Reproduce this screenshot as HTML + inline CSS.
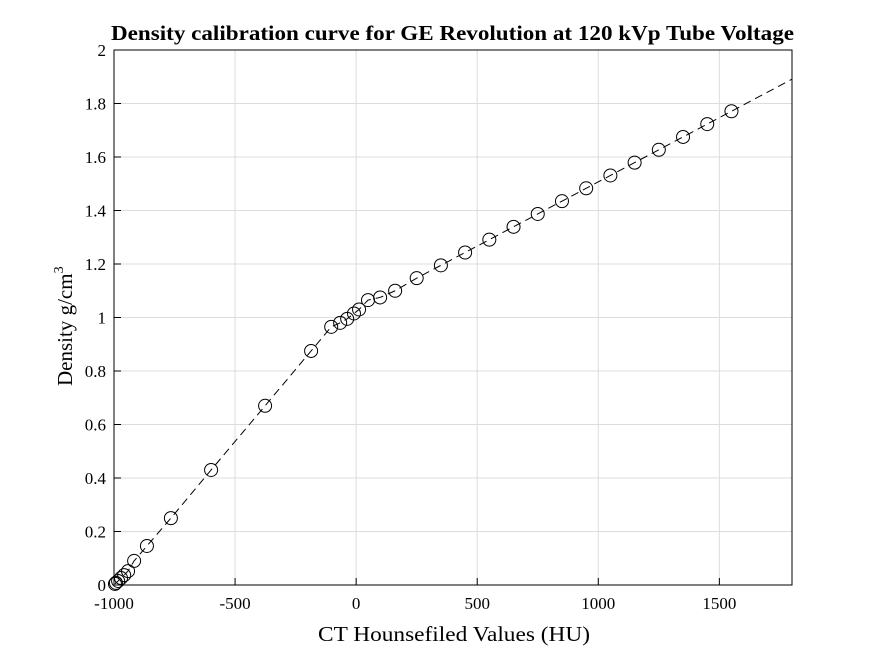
<!DOCTYPE html>
<html><head><meta charset="utf-8"><style>
html,body{margin:0;padding:0;background:#fff;width:875px;height:656px;overflow:hidden}
svg text{font-family:"Liberation Serif",serif;fill:#000}
</style></head><body>
<svg id="chart" width="875" height="656">
<rect width="875" height="656" fill="#fff"/>
<g id="grid"></g>
<g id="series"></g>
<rect x="114" y="50" width="678" height="535" fill="none" stroke="#000" stroke-width="1"/>
<g id="ticks"></g>
<text x="111" y="40" font-size="21" font-weight="bold" textLength="683" lengthAdjust="spacingAndGlyphs">Density calibration curve for GE Revolution at 120 kVp Tube Voltage</text>
<text x="318" y="641" font-size="21" textLength="272" lengthAdjust="spacingAndGlyphs">CT Hounsefiled Values (HU)</text>
<text transform="translate(72,386) rotate(-90)" font-size="21">Density g/cm<tspan dy="-9" font-size="14">3</tspan></text>
</svg>
<script>
const hu = [-996,-992,-983,-971,-958,-942,-917,-864,-765,-599,-376,-186,-103,-66,-37,-9,12,49,99,161,250,350,450,550,650,750,850,950,1050,1150,1250,1350,1450,1550];
const density = [0.004,0.008,0.015,0.026,0.037,0.052,0.09,0.146,0.25,0.43,0.67,0.875,0.965,0.98,0.995,1.015,1.03,1.065,1.075,1.10,1.147,1.195,1.243,1.291,1.339,1.387,1.435,1.483,1.531,1.579,1.627,1.675,1.723,1.771];
const xTicks = [-1000,-500,0,500,1000,1500];
const yTicks = [0,0.2,0.4,0.6,0.8,1,1.2,1.4,1.6,1.8,2];
const NS="http://www.w3.org/2000/svg";
const X = v => 114 + (v + 1000) / 2800 * 678;
const Y = v => 585 - v / 2 * 535;
function mk(tag, attrs, parent){const e=document.createElementNS(NS,tag);for(const k in attrs)e.setAttribute(k,attrs[k]);parent.appendChild(e);return e;}
const grid=document.getElementById('grid'), ticks=document.getElementById('ticks'), series=document.getElementById('series');
xTicks.forEach(t=>{
  const g=mk('line',{x1:X(t),x2:X(t),y1:50,y2:585,stroke:'#dcdcdc','stroke-width':1},grid);
  
  
  const a=mk('line',{x1:X(t),x2:X(t),y1:585,y2:578,stroke:'#000'},ticks);
  
  
  const l=mk('text',{x:X(t),y:609,'text-anchor':'middle','font-size':17},ticks);
  l.textContent=t;
  
  
});
yTicks.forEach(t=>{
  const g=mk('line',{x1:114,x2:792,y1:Y(t),y2:Y(t),stroke:'#dcdcdc','stroke-width':1},grid);
  
  
  const a=mk('line',{x1:114,x2:121,y1:Y(t),y2:Y(t),stroke:'#000'},ticks);
  
  
  const l=mk('text',{x:106,y:Y(t)+6,'text-anchor':'end','font-size':17},ticks);
  l.textContent=String(t);
  
  
});
const n=hu.length;
const slope=(density[n-1]-density[n-2])/(hu[n-1]-hu[n-2]);
let pts=hu.map((h,i)=>X(h)+','+Y(density[i]));
pts.push(X(1800)+','+Y(density[n-1]+slope*(1800-hu[n-1])));
const pl=mk('polyline',{points:pts.join(' '),fill:'none',stroke:'#000','stroke-width':1,'stroke-dasharray':'8,5'},series);


hu.forEach((h,i)=>{
  const c=mk('circle',{cx:X(h),cy:Y(density[i]),r:6.5,fill:'none',stroke:'#000','stroke-width':1},series);
  
  
});
</script>
</body></html>
